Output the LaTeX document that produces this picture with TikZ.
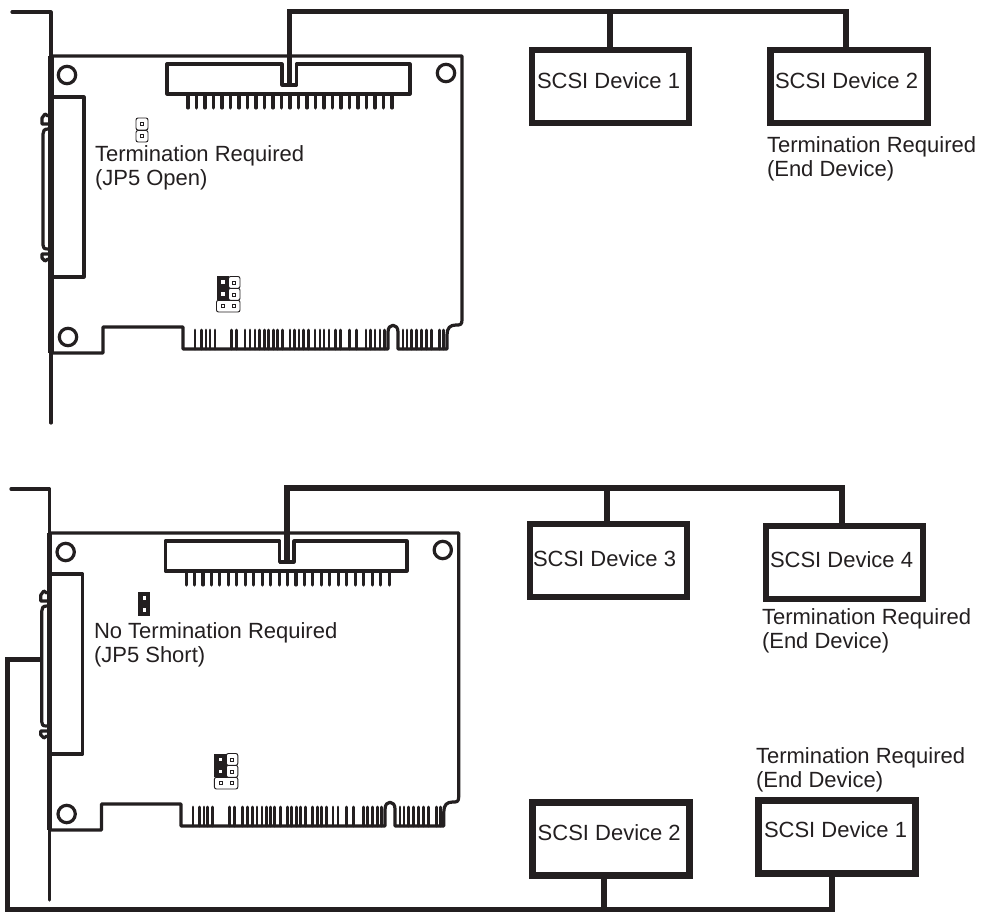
\documentclass[tikz,border=0pt]{standalone}
\usepackage{fontspec}
\setmainfont{Liberation Sans}
\definecolor{ink}{HTML}{231F20}
\tikzset{
  cardline/.style={draw=ink,line width=2.4pt,line join=round,line cap=round},
  thinbox/.style={draw=ink,line width=0.7pt,rounded corners=1.5pt,fill=white},
  busline/.style={draw=ink,line width=4.3pt,line join=miter},
  devbox/.style={draw=ink,line width=4.8pt,rectangle,inner sep=0pt,outer sep=0pt,minimum width=118pt,minimum height=55pt},
  lbl/.style={inner sep=0pt,outer sep=0pt,anchor=base west,align=left,text=ink,font=\fontsize{16.5}{18}\selectfont},
}
\newcommand{\pciCard}{%
  % bracket
  \draw[cardline] (12,12) -- (51,12) -- (51,423);
  \draw[cardline,line width=3.8pt,line cap=butt] (51,56) -- (51,353);
  % board outline
  \draw[cardline] (51,56) -- (462,56) -- (462,320) .. controls (462,325) and (460,325) .. (456,325)
    .. controls (450,325) and (447,328) .. (447,335) -- (447,349) -- (398,349) -- (398,332)
    .. controls (398,323) and (388,323) .. (388,332) -- (388,349) -- (183,349) -- (183,327)
    -- (103,327) -- (103,353) -- (51,353);
  % external connector
  \draw[cardline] (51,97) -- (84,97) -- (84,277) -- (51,277);
  \draw[cardline] (48,129) .. controls (44,129) and (43,131) .. (43,134) -- (43,245)
    .. controls (43,248) and (44,249) .. (48,249);
  \draw[cardline] (48,124) -- (42,124) -- (42,118) -- (45,114) -- (48,116);
  \draw[cardline] (48,254) -- (42,254) -- (42,258) -- (45,261) -- (48,259);
  % mounting holes
  \draw[cardline] (67,75) circle (8.7);
  \draw[cardline] (68,337) circle (8.7);
  \draw[cardline] (446,73) circle (8.7);
  % top connector
  \draw[cardline] (167,64) -- (282,64) -- (282,85) -- (296.5,85) -- (296.5,64) -- (410,64) -- (410,94) -- (167,94) -- cycle;
  \foreach \i in {0,...,24} \draw[cardline,line width=2.3pt] ({188+\i*8.5},94) -- ({188+\i*8.5},108);
  % edge fingers
  \foreach \x in {195,201.7,206,210,215,231.7,236.7,245,250,255,259.3,264.3,268.7,273.3,277.3,282.7,290,294.3,299,303.3,308.3,315,320,324,329,335.7,340.7,349.3,356.7,366,370.7,375,380,384.3,403,407,411.7,416.7,421.7,426.7,431.7,439.3,443.3}
    \draw[cardline,line width=2.2pt] (\x,330) -- (\x,349);
  % 3x2 jumper
  \draw[thinbox] (216.5,300.3) rectangle (240,312);
  \draw[thinbox] (228.5,288.3) rectangle (240,300.3);
  \draw[thinbox] (228.5,276.5) rectangle (240,288.3);
  \fill[ink] (216.5,276.5) rectangle (228.8,300.3);
  \fill[white] (221,280.5) rectangle (224.5,284);
  \fill[white] (221,292.5) rectangle (224.5,296);
  \foreach \x/\y in {234.3/282.5,234.3/294.5,234.3/306.3,223/306.3}
    \draw[ink,line width=0.7pt] (\x-1.5,\y-1.5) rectangle (\x+1.5,\y+1.5);
}
\begin{document}
\begin{tikzpicture}[x=0.75pt,y=-0.75pt]
\path[use as bounding box] (0,0) rectangle (981,912);

% ---- upper diagram
\begin{scope}
  \pciCard
  \draw[thinbox] (136,118) rectangle (148,130);
  \draw[thinbox] (136,130.5) rectangle (148,142);
  \foreach \y in {124,136.3} \draw[ink,line width=0.7pt] (140.5,\y-1.5) rectangle (143.5,\y+1.5);
\end{scope}
\coordinate (ca) at (289.5,85);
\coordinate (ta1) at (610,11.5);
\coordinate (ta2) at (846,11.5);
\node[devbox] (d1) at (610.5,86.5) {};
\node[devbox] (d2) at (849,86.5) {};
\draw[busline] (ca) |- (ta2) -- (ta2 |- d2.north);
\draw[busline] (ta1) -- (ta1 |- d1.north);
\node[lbl] (l1) at (537,89) {SCSI Device 1};
\node[lbl] (l2) at (775,89) {SCSI Device 2};
\node[lbl] (n1) at (767,176.5) {Termination Required\\(End Device)};
\node[lbl] (n2) at (95,185.7) {Termination Required\\(JP5 Open)};

% ---- lower diagram
\begin{scope}[shift={(-1,477)},xscale=.995]
  \pciCard
  \fill[ink] (140,115) rectangle (152,139);
  \fill[white] (144.3,119) rectangle (147.7,122.5);
  \fill[white] (144.3,131) rectangle (147.7,134.5);
\end{scope}
\coordinate (cb) at (287,562);
\coordinate (tb3) at (607,488);
\coordinate (tb4) at (842,488);
\node[devbox] (d3) at (608.5,560.5) {};
\node[devbox] (d4) at (844.5,562.5) {};
\draw[busline] (cb) |- (tb4) -- (tb4 |- d4.north);
\draw[busline] (tb3) -- (tb3 |- d3.north);
\node[lbl] (l3) at (533,566) {SCSI Device 3};
\node[lbl] (l4) at (770,567) {SCSI Device 4};
\node[lbl] (n3) at (762,648) {Termination Required\\(End Device)};
\node[lbl] (n4) at (94,662) {No Termination Required\\(JP5 Short)};

\node[devbox] (d5) at (611,839) {};
\node[devbox] (d6) at (837,837) {};
\coordinate (p0) at (41,659.5);
\coordinate (p1) at (7.5,659.5);
\coordinate (p2) at (7.5,909.5);
\coordinate (tc5) at (604,909.5);
\coordinate (tc6) at (832,909.5);
\draw[busline] (p0) -- (p1) -- (p2) -- (tc6) -- (tc6 |- d6.south);
\draw[busline] (tc5) -- (tc5 |- d5.south);
\node[lbl] (l5) at (537.7,840) {SCSI Device 2};
\node[lbl] (l6) at (764,837) {SCSI Device 1};
\node[lbl] (n5) at (756,787) {Termination Required\\(End Device)};
\end{tikzpicture}
\end{document}
